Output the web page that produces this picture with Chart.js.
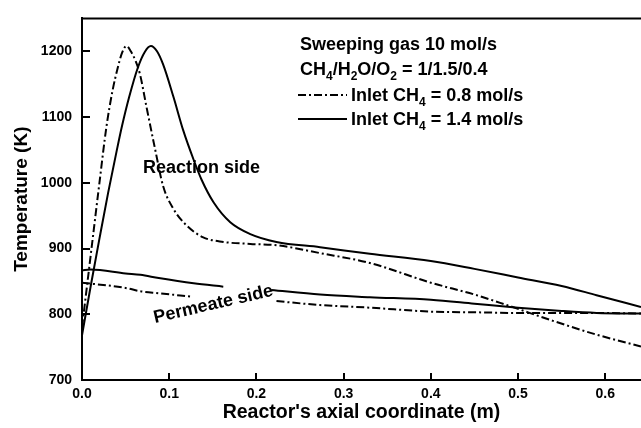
<!DOCTYPE html>
<html>
<head>
<meta charset="utf-8">
<script src="https://cdn.jsdelivr.net/npm/chart.js@4.4.0/dist/chart.umd.min.js"></script>
<style>
  html, body { margin: 0; padding: 0; background: #fff; }
  #wrap { width: 641px; height: 428px; }
</style>
</head>
<body>
<div id="wrap"><canvas id="chart" width="641" height="428"></canvas></div>
<script>
const FONT = '"Liberation Sans", Arial, Helvetica, sans-serif';

// reaction side, inlet CH4 = 0.8 mol/s (dash-dot)
const xReact08 = [0, 0.01, 0.02, 0.028, 0.035, 0.041, 0.046, 0.051, 0.056, 0.0615, 0.0665, 0.074, 0.084, 0.093, 0.105, 0.12, 0.139, 0.162, 0.193, 0.223, 0.273, 0.33, 0.4, 0.45, 0.487, 0.54, 0.59, 0.641];
const tReact08 = [780, 890, 1000, 1085, 1140, 1175, 1198, 1208, 1200, 1185, 1165, 1115, 1050, 995, 960, 935, 917, 910, 907, 905, 893, 878, 848, 830, 814, 790, 769, 751];

// reaction side, inlet CH4 = 1.4 mol/s (solid)
const xReact14 = [0, 0.01, 0.02, 0.03, 0.04, 0.046, 0.054, 0.064, 0.072, 0.079, 0.086, 0.093, 0.105, 0.116, 0.128, 0.137, 0.151, 0.17, 0.193, 0.223, 0.273, 0.33, 0.4, 0.45, 0.5, 0.55, 0.59, 0.641];
const tReact14 = [768, 843, 915, 985, 1050, 1087, 1130, 1175, 1199, 1208, 1200, 1180, 1130, 1080, 1035, 1005, 970, 940, 922, 910, 902, 892, 881, 869, 856, 843, 829, 811];

// permeate side (null = gap behind the label)
const xPerm08 = [0, 0.05, 0.067, 0.088, 0.124, 0.17, 0.223, 0.273, 0.33, 0.4, 0.45, 0.5, 0.55, 0.59, 0.641];
const tPerm08 = [848, 840, 835, 832, 827, null, 820, 814, 810, 804, 803, 802, 802, 802, 801];

const xPerm14 = [0, 0.01, 0.05, 0.067, 0.088, 0.128, 0.162, 0.19, 0.217, 0.273, 0.33, 0.4, 0.45, 0.5, 0.55, 0.59, 0.641];
const tPerm14 = [867, 868, 862, 860, 855, 847, 842, null, 837, 830, 826, 822, 816, 810, 805, 802, 801];

const xTicks = [0, 0.1, 0.2, 0.3, 0.4, 0.5, 0.6];
const yTicks = [700, 800, 900, 1000, 1100, 1200];

const DASHDOT = [8, 3, 2, 3];

function pts(xs, ys) {
  return xs.map((x, i) => ({ x: x, y: ys[i] }));
}

function line(data, dash) {
  return {
    data: data,
    borderColor: '#000',
    borderWidth: 2,
    borderDash: dash,
    pointRadius: 0,
    cubicInterpolationMode: 'monotone',
    spanGaps: false,
    fill: false
  };
}

// draws text with subscript parts: [[text, isSub], ...]
function richText(ctx, parts, x, y, size) {
  parts.forEach(([txt, sub]) => {
    ctx.font = 'bold ' + (sub ? 12 : size) + 'px ' + FONT;
    ctx.fillText(txt, x, sub ? y + 5 : y);
    x += ctx.measureText(txt).width;
  });
}

const extras = {
  id: 'extras',
  afterDraw(chart) {
    const ctx = chart.ctx;
    const a = chart.chartArea;
    const xs = chart.scales.x, ys = chart.scales.y;
    ctx.save();
    ctx.strokeStyle = '#000';
    ctx.fillStyle = '#000';
    ctx.lineWidth = 2;
    ctx.setLineDash([]);

    // top frame line
    ctx.beginPath();
    ctx.moveTo(a.left - 1, a.top);
    ctx.lineTo(a.right, a.top);
    ctx.stroke();

    // inward tick marks
    ctx.beginPath();
    yTicks.forEach(v => {
      const py = Math.round(ys.getPixelForValue(v));
      ctx.moveTo(a.left, py);
      ctx.lineTo(a.left + 8, py);
    });
    xTicks.forEach(v => {
      const px = Math.round(xs.getPixelForValue(v));
      ctx.moveTo(px, a.bottom);
      ctx.lineTo(px, a.bottom - 7);
    });
    ctx.stroke();

    // legend block
    ctx.textBaseline = 'alphabetic';
    ctx.textAlign = 'left';
    ctx.font = 'bold 18px ' + FONT;
    ctx.fillText('Sweeping gas 10 mol/s', 300, 50);
    richText(ctx, [['CH', 0], ['4', 1], ['/H', 0], ['2', 1], ['O/O', 0], ['2', 1], [' = 1/1.5/0.4', 0]], 300, 75, 18);

    const ds = chart.data.datasets;
    ctx.lineWidth = 2;
    ctx.setLineDash(ds[0].borderDash);
    ctx.beginPath();
    ctx.moveTo(298, 95);
    ctx.lineTo(347, 95);
    ctx.stroke();
    ctx.setLineDash([]);
    ctx.beginPath();
    ctx.moveTo(298, 119);
    ctx.lineTo(347, 119);
    ctx.stroke();
    richText(ctx, [['Inlet CH', 0], ['4', 1], [' = 0.8 mol/s', 0]], 351, 101, 18);
    richText(ctx, [['Inlet CH', 0], ['4', 1], [' = 1.4 mol/s', 0]], 351, 125, 18);

    // curve labels
    ctx.font = 'bold 18px ' + FONT;
    ctx.fillText('Reaction side', 143, 173);
    ctx.save();
    ctx.translate(155, 323);
    ctx.rotate(-13 * Math.PI / 180);
    ctx.fillText('Permeate side', 0, 0);
    ctx.restore();

    ctx.restore();
  }
};

Chart.defaults.font.family = FONT;
Chart.defaults.color = '#000';

new Chart(document.getElementById('chart'), {
  type: 'line',
  data: {
    datasets: [
      line(pts(xReact08, tReact08), DASHDOT),
      line(pts(xReact14, tReact14), []),
      line(pts(xPerm08, tPerm08), DASHDOT),
      line(pts(xPerm14, tPerm14), [])
    ]
  },
  options: {
    responsive: false,
    animation: false,
    devicePixelRatio: 1,
    layout: { padding: { top: 11, left: 0, right: 0, bottom: 0 } },
    plugins: { legend: { display: false }, tooltip: { enabled: false } },
    scales: {
      x: {
        type: 'linear',
        min: 0,
        max: 0.641,
        afterBuildTicks: s => { s.ticks = xTicks.map(v => ({ value: v })); },
        afterFit: s => { s.height = 48; },
        grid: { drawOnChartArea: false, drawTicks: false },
        border: { color: '#000', width: 2 },
        ticks: {
          padding: 6,
          font: { size: 14, weight: 'bold' },
          callback: v => v.toFixed(1)
        },
        title: {
          display: true,
          text: "Reactor's axial coordinate (m)",
          font: { size: 19.5, weight: 'bold' },
          padding: { top: 0, bottom: 4 }
        }
      },
      y: {
        min: 700,
        max: 1250,
        afterBuildTicks: s => { s.ticks = yTicks.map(v => ({ value: v })); },
        afterFit: s => { s.width = 82; },
        grid: { drawOnChartArea: false, drawTicks: false },
        border: { color: '#000', width: 2 },
        ticks: {
          padding: 10,
          font: { size: 14, weight: 'bold' },
          callback: v => String(v)
        },
        title: {
          display: true,
          text: 'Temperature (K)',
          font: { size: 19, weight: 'bold' },
          padding: { top: 10, bottom: 0 }
        }
      }
    }
  },
  plugins: [extras]
});
</script>
</body>
</html>
